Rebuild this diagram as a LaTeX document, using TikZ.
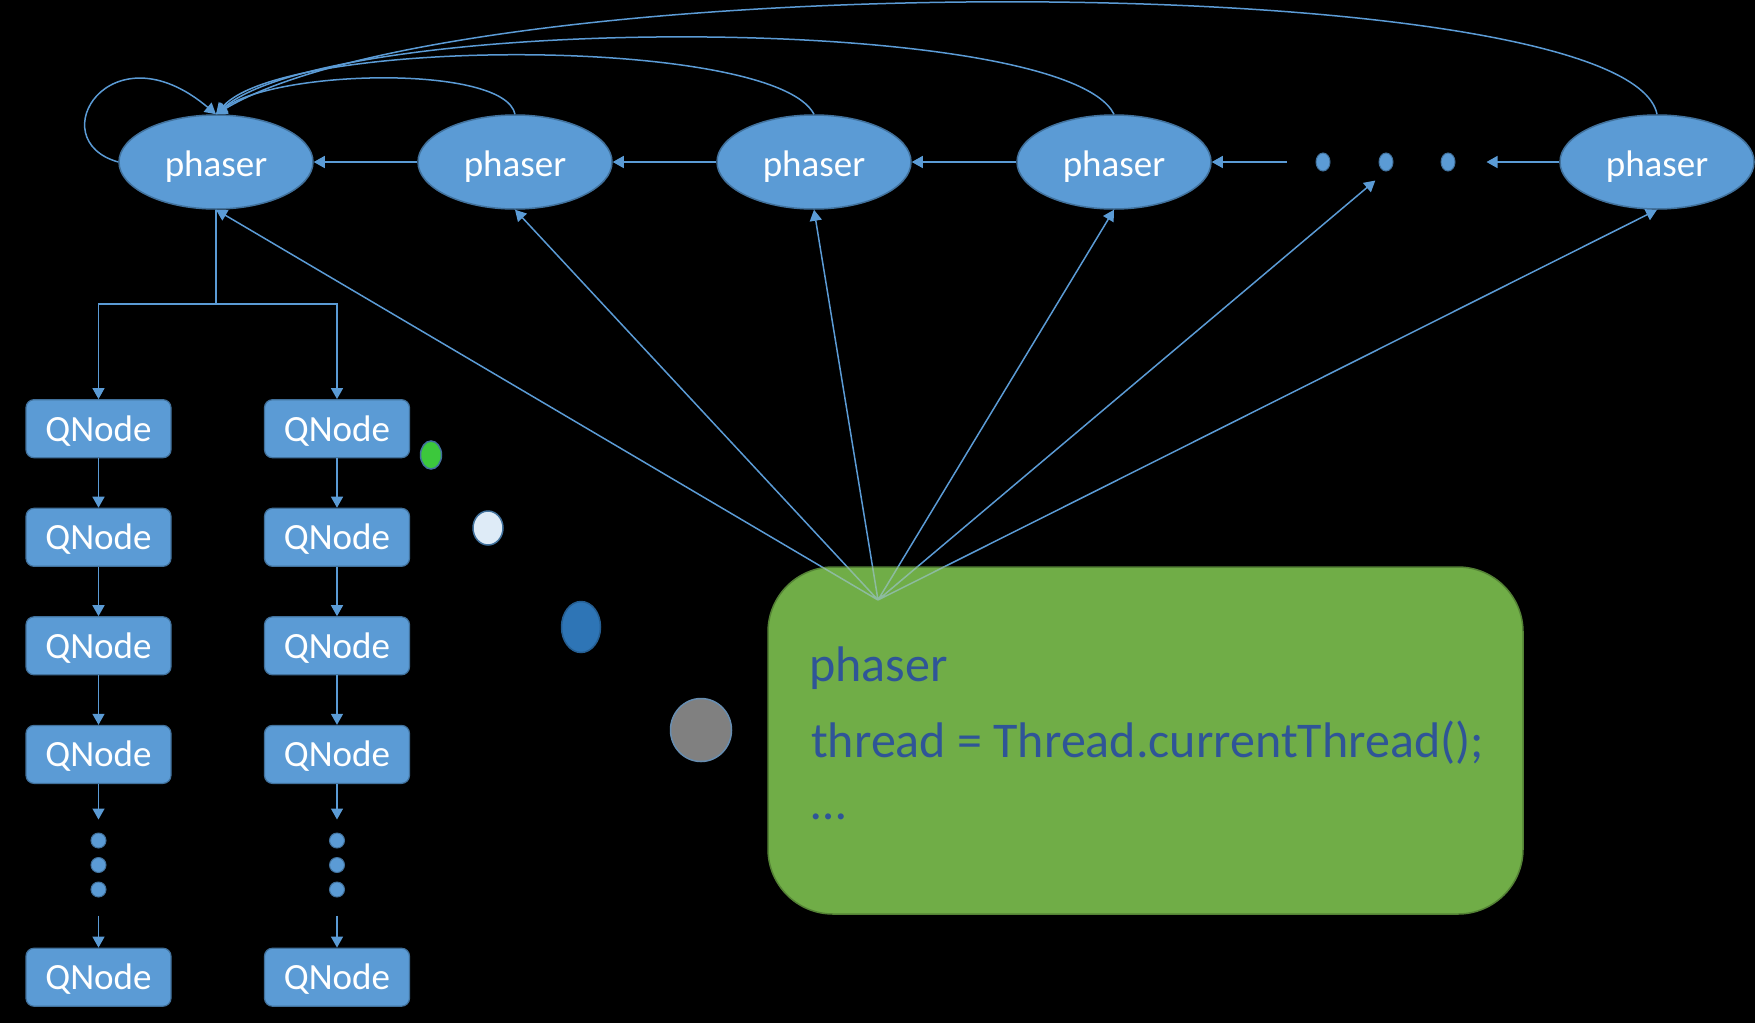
\documentclass[tikz,border=0pt]{standalone}
\usepackage{fontspec}
\setmainfont{Carlito}
\usetikzlibrary{shapes.geometric,arrows.meta}
\definecolor{edgeblue}{HTML}{5B9BD5}
\definecolor{nodefill}{HTML}{5B9BD5}
\definecolor{nodeline}{HTML}{41719C}
\definecolor{boxfill}{HTML}{70AD47}
\definecolor{boxline}{HTML}{548235}
\definecolor{boxtext}{HTML}{2F5597}
\definecolor{spotgreen}{HTML}{3CC83C}
\definecolor{spotlight}{HTML}{DEEBF7}
\definecolor{spotblue}{HTML}{2E75B6}
\definecolor{spotgray}{HTML}{808080}
\newcommand{\lowtxt}[2]{\raisebox{-#1}[\height][\depth]{#2}}
\begin{document}
\begin{tikzpicture}[x=1pt,y=-1pt,
  phaser/.style={ellipse, draw=nodeline, fill=nodefill, line width=1.5pt,
    minimum width=194pt, minimum height=94pt, inner sep=0pt, text=white,
    font=\fontsize{37}{44}\selectfont},
  qnode/.style={rectangle, rounded corners=8pt, draw=nodeline, fill=nodefill, line width=1.2pt,
    minimum width=145pt, minimum height=58pt, inner sep=0pt, text=white,
    font=\fontsize{37}{44}\selectfont},
  hdot/.style={ellipse, draw=nodeline, fill=nodefill, line width=1pt,
    minimum width=14pt, minimum height=18pt, inner sep=0pt},
  vdot/.style={circle, draw=nodeline, fill=nodefill, line width=1pt,
    minimum size=15pt, inner sep=0pt},
  spot/.style={ellipse, draw=nodeline, line width=1.5pt, inner sep=0pt},
  gbox/.style={rectangle, rounded corners=65pt, draw=boxline, fill=boxfill, line width=1.5pt,
    minimum width=755pt, minimum height=347pt, inner sep=0pt},
  boxtxt/.style={text=boxtext, inner sep=0pt, anchor=base west,
    font=\fontsize{50}{60}\selectfont},
  conn/.style={draw=edgeblue, line width=1.5pt},
  arr/.style={conn, -{Triangle[width=12pt,length=11pt]}}
]
\fill[black] (0,0) rectangle (1755,1023);
\useasboundingbox (0,0) rectangle (1755,1023);

% phasers
\node[phaser] (p1) at (216,162) {\lowtxt{4.5pt}{phaser}};
\node[phaser] (p2) at (515,162) {\lowtxt{4.5pt}{phaser}};
\node[phaser] (p3) at (814,162) {\lowtxt{4.5pt}{phaser}};
\node[phaser] (p4) at (1114,162) {\lowtxt{4.5pt}{phaser}};
\node[phaser] (p5) at (1657,162) {\lowtxt{4.5pt}{phaser}};
\node[hdot] (h1) at (1323,162) {};
\node[hdot] (h2) at (1386,162) {};
\node[hdot] (h3) at (1448,162) {};

% QNodes
\foreach \c/\x in {a/98.5, b/337}{
  \node[qnode] (q\c1) at (\x,428.7) {\lowtxt{2pt}{QNode}};
  \node[qnode] (q\c2) at (\x,537.3) {\lowtxt{2pt}{QNode}};
  \node[qnode] (q\c3) at (\x,645.8) {\lowtxt{2pt}{QNode}};
  \node[qnode] (q\c4) at (\x,754.4) {\lowtxt{2pt}{QNode}};
  \node[qnode] (q\c5) at (\x,977.2) {\lowtxt{2pt}{QNode}};
  \node[vdot] (v\c1) at (\x,840.5) {};
  \node[vdot] (v\c2) at (\x,865) {};
  \node[vdot] (v\c3) at (\x,889.5) {};
}

% coloured spots
\node[spot, fill=spotgreen, minimum width=21pt, minimum height=28pt] (s1) at (431,455) {};
\node[spot, fill=spotlight, minimum width=30pt, minimum height=34pt] (s2) at (488,528) {};
\node[spot, fill=spotblue, draw=spotblue!80!black, minimum width=39pt, minimum height=51pt] (s3) at (581,627) {};
\node[spot, fill=spotgray, draw=nodeline!80, minimum width=61pt, minimum height=63pt] (s4) at (701,730) {};

% chain arrows
\draw[arr] (p2) -- (p1);
\draw[arr] (p3) -- (p2);
\draw[arr] (p4) -- (p3);
\draw[arr, shorten <=29pt] (h1) -- (p4);
\draw[arr, shorten >=31pt] (p5) -- (h3);

% arcs to first phaser
\draw[arr] (p1.west) .. controls (40,140) and (110,25) .. (p1.north);
\draw[arr] (p2.north) .. controls +(-10,-50) and +(60,-45) .. (p1.north);
\draw[arr] (p3.north) .. controls +(-40,-78) and +(70,-78) .. (p1.north);
\draw[arr] (p4.north) .. controls +(-50,-102) and +(120,-102) .. (p1.north);
\draw[arr] (p5.north) .. controls +(-30,-148) and +(250,-150) .. (p1.north);

% tree of QNodes
\draw[conn] (p1.south) -- ++(0,94) coordinate (split);
\draw[arr] (split) -| (qa1.north);
\draw[arr] (split) -| (qb1.north);
\foreach \c in {a,b}{
  \draw[arr] (q\c1) -- (q\c2);
  \draw[arr] (q\c2) -- (q\c3);
  \draw[arr] (q\c3) -- (q\c4);
  \draw[arr, shorten >=13pt] (q\c4) -- (v\c1);
  \draw[arr, shorten <=18pt] (v\c3) -- (q\c5);
}

% fan from the thread box
\coordinate (hub) at (878,600);
\draw[arr] (hub) -- (p1.south);
\draw[arr] (hub) -- (p2.south);
\draw[arr] (hub) -- (p3.south);
\draw[arr] (hub) -- (p4.south);
\draw[arr, shorten >=14pt] (hub) -- (h2.south);
\draw[arr] (hub) -- (p5.south);

\node[gbox] (box) at (1145.5,740.5) {};
\begin{scope}
  \clip[rounded corners=65pt] (box.north west) rectangle (box.south east);
  \draw[edgeblue!55!white, opacity=0.55, line width=1.5pt]
    (hub) -- (p1.south) (hub) -- (p2.south) (hub) -- (p3.south)
    (hub) -- (p4.south) (hub) -- (h2.south) (hub) -- (p5.south);
\end{scope}
\node[boxtxt] (t1) at (809,681) {phaser};
\node[boxtxt] (t2) at (811,757) {thread = Thread.currentThread();};
\node[boxtxt] (t3) at (811,819) {…};
\end{tikzpicture}
\end{document}
